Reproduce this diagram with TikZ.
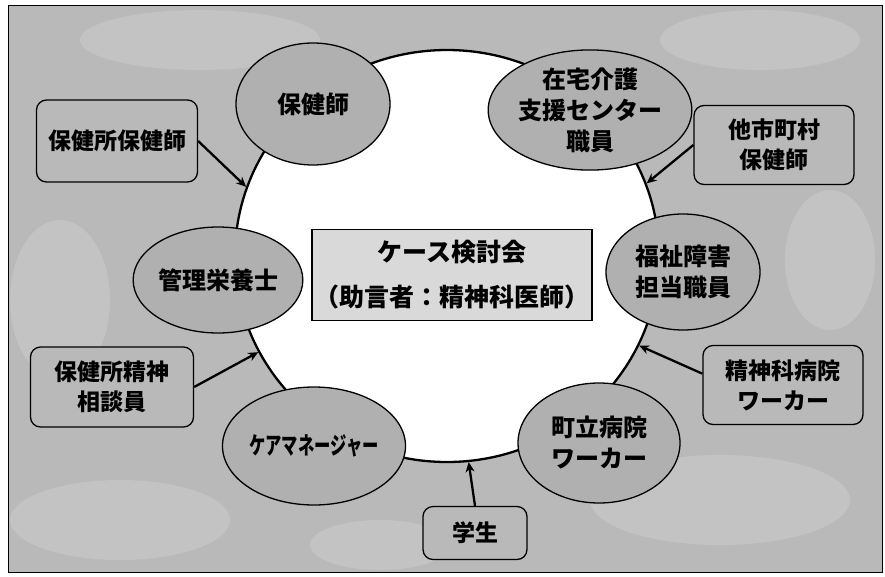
\documentclass[tikz,border=0pt]{standalone}
\usepackage{fontspec}
\newfontfamily\jp{Noto Sans CJK JP}
\usetikzlibrary{shapes.geometric,arrows.meta}
\begin{document}
\begin{tikzpicture}[x=1pt,y=-1pt,
  bubble/.style={ellipse,draw=black,line width=1.3pt,fill=gray!62,inner sep=0pt,
    font=\jp\bfseries\fontsize{24}{31}\selectfont,align=center},
  tagbox/.style={rectangle,rounded corners=10pt,draw=black,line width=1.3pt,fill=gray!55,
    inner sep=0pt,font=\jp\bfseries\fontsize{23}{30}\selectfont,align=center},
  link/.style={-{Stealth[length=10pt,width=9pt]},line width=2.3pt},
  patch/.style={fill=white,opacity=0.15}]
\useasboundingbox (0,0) rectangle (885,576);
% background
\fill[gray!55] (8,5) rectangle (882,572);
\fill[patch] (120,520) ellipse (110 and 40);
\fill[patch] (380,545) ellipse (70 and 25);
\fill[patch] (720,500) ellipse (130 and 45);
\fill[patch] (60,300) ellipse (50 and 80);
\fill[patch] (200,40) ellipse (120 and 30);
\fill[patch] (760,40) ellipse (100 and 30);
\fill[patch] (830,260) ellipse (45 and 70);
\draw[line width=1pt] (8,5) rectangle (882,572);
% ring
\node[ellipse,draw=black,fill=white,line width=2.3pt,inner sep=0pt,
  minimum width=424pt,minimum height=412pt] (ring) at (447,256) {};
% center
\node[rectangle,draw=black,line width=1.3pt,fill=gray!30,minimum width=280pt,minimum height=91pt,
  inner sep=0pt,font=\jp\bfseries\fontsize{25}{45}\selectfont,align=center] (meet) at (452,275)
  {ケース検討会\\（助言者：精神科医師）};
% members
\node[bubble,minimum width=154pt,minimum height=122pt] (hokenshi) at (313,104) {保健師};
\node[bubble,minimum width=176pt,minimum height=120pt] (zaitaku) at (590,110) {在宅介護\\支援センター\\職員};
\node[bubble,minimum width=154pt,minimum height=106pt] (eiyou) at (218,280) {管理栄養士};
\node[bubble,minimum width=154pt,minimum height=116pt] (fukushi) at (683,272) {福祉障害\\担当職員};
\node[bubble,minimum width=152pt,minimum height=118pt] (care) at (314,446) {\scalebox{0.68}[1]{ケアマネージャー}};
\node[bubble,minimum width=162pt,minimum height=120pt] (choritsu) at (599,443) {町立病院\\ワーカー};
% outside boxes
\node[tagbox,minimum width=161pt,minimum height=82pt] (hokenjo) at (117,141) {保健所保健師};
\node[tagbox,minimum width=160pt,minimum height=79pt] (tashi) at (774,145) {他市町村\\保健師};
\node[tagbox,minimum width=163pt,minimum height=80pt] (seishin) at (112,387) {保健所精神\\相談員};
\node[tagbox,minimum width=160pt,minimum height=79pt] (byoin) at (783,385) {精神科病院\\ワーカー};
\node[tagbox,minimum width=104pt,minimum height=53pt] (gakusei) at (475,533) {学生};
% arrows
\draw[link] (hokenjo.east) -- (ring.161);
\draw[link] (tashi.west) -- (ring.20);
\draw[link] (seishin.east) -- (ring.207.5);
\draw[link] (byoin.172) -- (ring.335.5);
\draw[link] (gakusei.north) -- (ring.276.8);
\end{tikzpicture}
\end{document}
